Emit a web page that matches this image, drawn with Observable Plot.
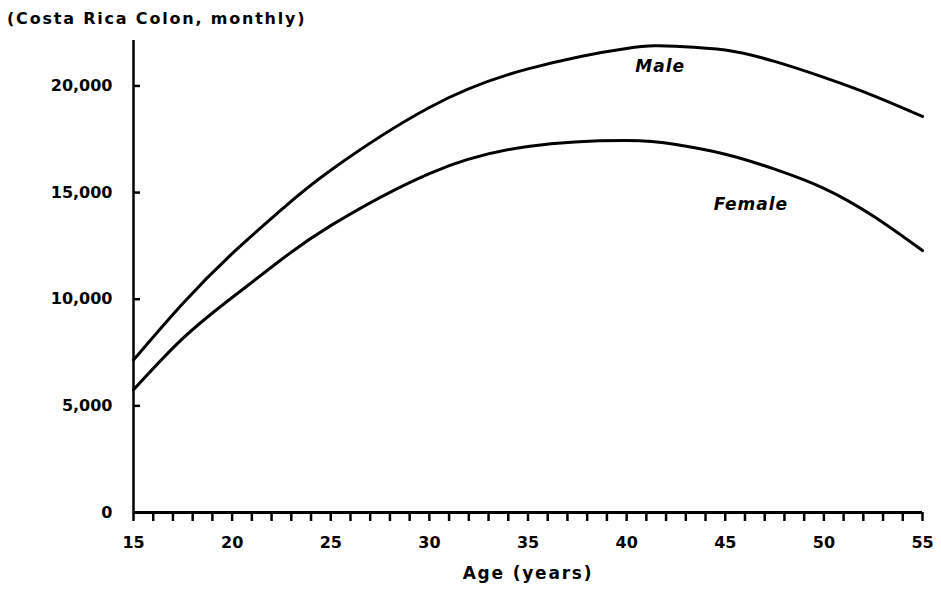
<!DOCTYPE html>
<html>
<head>
<meta charset="utf-8">
<script src="https://cdn.jsdelivr.net/npm/d3@7"></script>
<script src="https://cdn.jsdelivr.net/npm/@observablehq/plot@0.6"></script>
<style>
  body { margin: 0; background: #fff; position: relative; }
  #title { position: absolute; left: 7px; top: 9px; font: bold 16px "DejaVu Sans"; letter-spacing: 1.8px; color: #000; white-space: nowrap; }
  svg { display: block; }
</style>
</head>
<body>
<div id="title">(Costa Rica Colon, monthly)</div>
<div id="chart"></div>
<script>
const ages = [15, 17.5, 20, 22.5, 25, 30, 35, 40, 42.5, 45, 47.5, 50, 52.5, 55];
const male = [7150, 9800, 12140, 14200, 16050, 18990, 20800, 21760, 21860, 21680, 21150, 20400, 19550, 18570];
const female = [5750, 8160, 10080, 11860, 13450, 15890, 17160, 17440, 17250, 16800, 16100, 15200, 13900, 12280];
const xTicks = d3.range(15, 56, 1);
const yTicks = [0, 5000, 10000, 15000, 20000];
const seriesLabels = [
  {age: 41.7, value: 20900, text: "Male"},
  {age: 46.3, value: 14450, text: "Female"}
];

const data = [
  ...ages.map((a, i) => ({age: a, value: male[i], sex: "Male"})),
  ...ages.map((a, i) => ({age: a, value: female[i], sex: "Female"}))
];

const font = "DejaVu Sans";
const chart = Plot.plot({
  width: 941,
  height: 591,
  marginLeft: 133,
  marginRight: 19,
  marginTop: 40,
  marginBottom: 79,
  style: {fontFamily: font, fontWeight: "bold", fontSize: "15px", color: "#000", background: "#fff"},
  x: {domain: [15, 55]},
  y: {domain: [0, 22130]},
  marks: [
    Plot.axisX({ticks: xTicks, tickFormat: d => d % 5 === 0 ? String(d) : "", tickSize: 9, tickPadding: 15, strokeWidth: 2.5, label: null, fontSize: 16}),
    Plot.axisY({ticks: yTicks.filter(d => d > 0), tickSize: -7, strokeWidth: 2.5, text: null, label: null}),
    Plot.axisY({ticks: yTicks, tickSize: 0, tickPadding: 21, tickFormat: d3.format(","), label: null, fontSize: 16}),
    Plot.ruleX([15], {y1: 0, y2: 22130, strokeWidth: 2.5}),
    Plot.ruleY([0], {strokeWidth: 3}),
    Plot.line(data, {x: "age", y: "value", z: "sex", curve: "natural", strokeWidth: 3, stroke: "#000"}),
    Plot.text(seriesLabels, {x: "age", y: "value", text: "text", fontStyle: "italic", fontWeight: "bold", fontSize: 17}),
    Plot.text(["Age (years)"], {frameAnchor: "bottom", dy: 66, fontSize: 17, fontWeight: "bold"})
  ]
});
d3.select(chart).selectAll("text").each(function() {
  const t = this.textContent;
  if (t === "Male" || t === "Female") this.style.letterSpacing = "1px";
  if (t === "Age (years)") this.style.letterSpacing = "1.8px";
});
document.getElementById("chart").appendChild(chart);
</script>
</body>
</html>
